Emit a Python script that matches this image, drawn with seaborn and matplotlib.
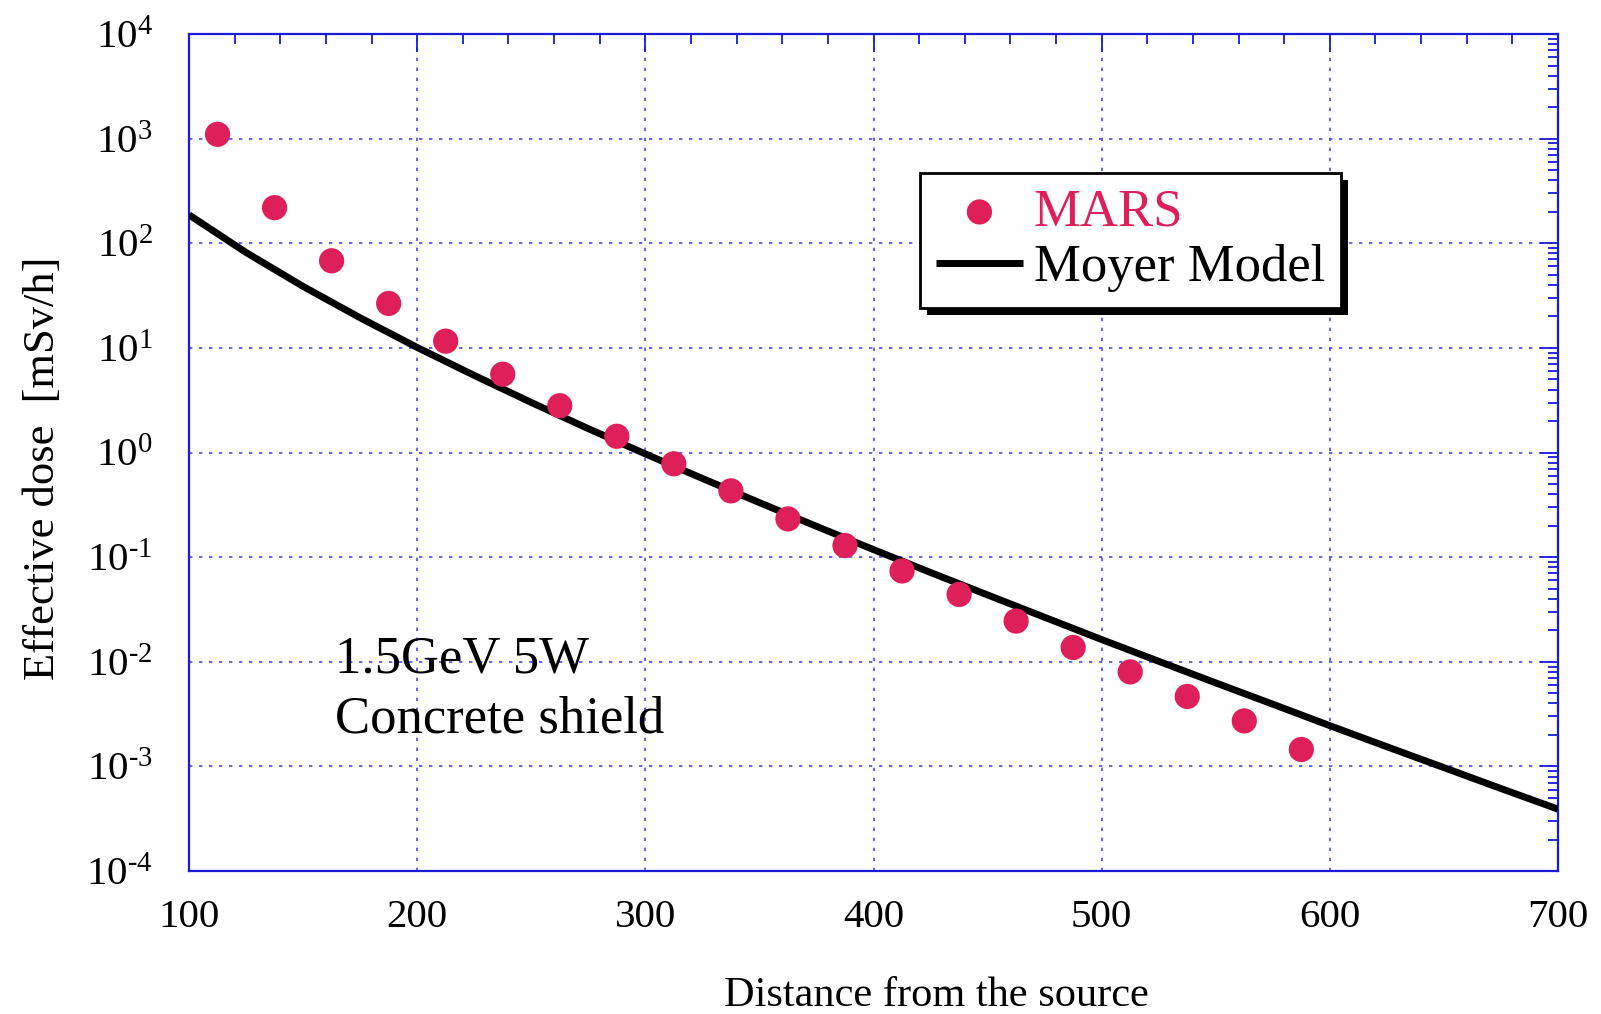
import numpy as np
import pandas as pd
import seaborn as sns
import matplotlib
matplotlib.use("Agg")
import matplotlib.pyplot as plt
from matplotlib import ticker
from matplotlib import patheffects as pe

# ---- data ----
mars_x = [112.5, 137.5, 162.5, 187.5, 212.5, 237.5, 262.5, 287.5, 312.5, 337.5,
          362.5, 387.5, 412.5, 437.5, 462.5, 487.5, 512.5, 537.5, 562.5, 587.5]
mars_y = [1100, 219, 68, 26.6, 11.6, 5.6, 2.8, 1.43, 0.78, 0.43,
          0.232, 0.129, 0.0738, 0.044, 0.0245, 0.0137, 0.0080, 0.00466, 0.00272, 0.00145]

moyer_x = [100, 125, 150, 175, 200, 225, 250, 275, 300, 325, 350, 375, 400,
           425, 450, 475, 500, 525, 550, 575, 600, 625, 650, 675, 700]
moyer_y = [187, 81.7, 38.7, 19.4, 10.1, 5.46, 3.01, 1.69, 0.97, 0.565, 0.332, 0.197, 0.118,
           0.0713, 0.0435, 0.0266, 0.0163, 0.0101, 0.00628, 0.00393, 0.00245, 0.00154,
           0.000973, 0.000614, 0.00039]

x_label = "Distance from the source"
y_label = "Effective dose  [mSv/h]"
note1 = "1.5GeV 5W"
note2 = "Concrete shield"

CRIMSON = "#DE1F5A"
BLUE = "#1a1ad8"
GRIDBLUE = "#4a4aee"

sns.set_theme(style="white")
plt.rcParams["font.family"] = ["Liberation Serif", "DejaVu Serif"]
plt.rcParams["mathtext.fontset"] = "custom"
plt.rcParams["mathtext.rm"] = "Liberation Serif"
plt.rcParams["mathtext.it"] = "Liberation Serif:italic"
plt.rcParams["axes.unicode_minus"] = False
plt.rcParams["text.color"] = "black"
plt.rcParams["axes.labelcolor"] = "black"

fig = plt.figure(figsize=(16.01, 10.14), dpi=100)
ax = fig.add_axes([0.11805, 0.14103, 0.8551, 0.8254])

sns.lineplot(x=moyer_x, y=moyer_y, ax=ax, color="black", linewidth=5.0,
             label="Moyer Model", zorder=3, solid_capstyle="butt")
sns.scatterplot(x=mars_x, y=mars_y, ax=ax, color=CRIMSON, s=330, linewidth=0,
                edgecolor="none", label="MARS", zorder=4)

ax.set_yscale("log")
ax.set_xlim(100, 700)
ax.set_ylim(1e-4, 1e4)


def log_fmt(val, pos):
    n = int(round(np.log10(val)))
    if n < 0:
        return r"$\mathdefault{10^{\text{-}%d}}$" % (-n)
    return r"$\mathdefault{10^{%d}}$" % n


ax.xaxis.set_major_locator(ticker.MultipleLocator(100))
ax.xaxis.set_minor_locator(ticker.MultipleLocator(20))
ax.yaxis.set_major_locator(ticker.LogLocator(base=10, numticks=20))
ax.yaxis.set_minor_locator(ticker.LogLocator(base=10, subs=np.arange(2, 10), numticks=20))
ax.yaxis.set_major_formatter(ticker.FuncFormatter(log_fmt))
ax.yaxis.set_minor_formatter(ticker.NullFormatter())

ax.tick_params(which="both", direction="in", top=True, right=True,
               color=BLUE, labelcolor="black", width=1.3)
ax.tick_params(which="major", length=13)
ax.tick_params(which="minor", length=7)
ax.tick_params(axis="x", which="major", labelsize=29.5, pad=20)
ax.tick_params(axis="y", which="major", labelsize=29.5, pad=26)

for sp in ax.spines.values():
    sp.set_color(BLUE)
    sp.set_linewidth(1.6)

ax.grid(which="major", color=GRIDBLUE, linestyle=(0, (2, 4)), linewidth=1.2)
ax.set_axisbelow(True)

ax.set_xlabel(x_label, fontsize=30.5, va="center")
ax.xaxis.set_label_coords(0.546, -0.149)
ax.set_ylabel(y_label, fontsize=32, va="center")
ax.yaxis.set_label_coords(-0.107, 0.481)

ax.text(164, 0.00796, note1, fontsize=38, va="baseline", ha="left", zorder=5)
ax.text(164, 0.00212, note2, fontsize=38, va="baseline", ha="left", zorder=5)

handles, labels = ax.get_legend_handles_labels()
order = [labels.index("MARS"), labels.index("Moyer Model")]
leg = ax.legend([handles[i] for i in order], [labels[i] for i in order],
                loc="upper left", bbox_to_anchor=(0.534, 0.834), borderaxespad=0,
                frameon=True, fancybox=False, edgecolor="black", framealpha=1,
                fontsize=38, handlelength=1.65, handletextpad=0.2,
                borderpad=0.3, labelspacing=0.14)
leg.get_frame().set_linewidth(2)
leg.get_frame().set_path_effects([
    pe.SimplePatchShadow(offset=(5, -5), shadow_rgbFace="black", alpha=1.0),
    pe.Normal()])
leg.get_texts()[0].set_color(CRIMSON)

fig.savefig("out.png", dpi=100)
